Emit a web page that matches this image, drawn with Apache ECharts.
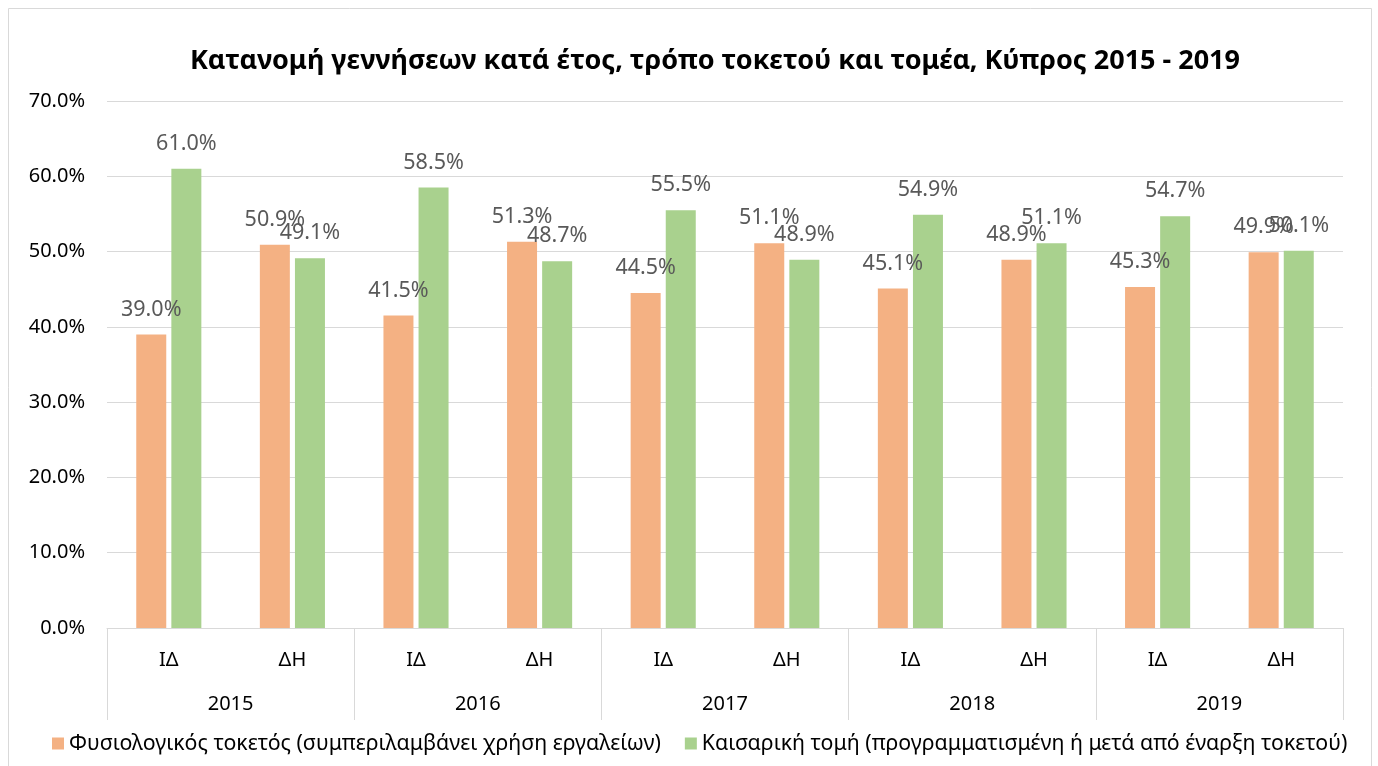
<!DOCTYPE html>
<html>
<head>
<meta charset="utf-8">
<script src="https://cdn.jsdelivr.net/npm/echarts@6/dist/echarts.min.js"></script>
<style>
  html, body { margin: 0; padding: 0; background: #fff; }
  #main { width: 1378px; height: 766px; }
</style>
</head>
<body>
<div id="main"></div>
<script>
// κατηγορίες και τιμές (%)
var years = ['2015', '2016', '2017', '2018', '2019'];
var sectors = ['ΙΔ', 'ΔΗ', 'ΙΔ', 'ΔΗ', 'ΙΔ', 'ΔΗ', 'ΙΔ', 'ΔΗ', 'ΙΔ', 'ΔΗ'];
var natural = [39.0, 50.9, 41.5, 51.3, 44.5, 51.1, 45.1, 48.9, 45.3, 49.9];
var caesarean = [61.0, 49.1, 58.5, 48.7, 55.5, 48.9, 54.9, 51.1, 54.7, 50.1];
var seriesNames = [
  'Φυσιολογικός τοκετός (συμπεριλαμβάνει χρήση εργαλείων)',
  'Καισαρική τομή (προγραμματισμένη ή μετά από έναρξη τοκετού)'
];

var font = '"Noto Sans", "Open Sans", sans-serif';
var chartDom = document.getElementById('main');
var myChart = echarts.init(chartDom);

var labelStyle = {
  show: true,
  position: 'top',
  distance: 14,
  color: '#595959',
  fontSize: 21.5,
  fontFamily: font,
  formatter: function (p) { return p.value.toFixed(1) + '%'; }
};

var option = {
  animation: false,
  textStyle: { fontFamily: font },
  title: {
    text: 'Κατανομή γεννήσεων κατά έτος, τρόπο τοκετού και τομέα, Κύπρος 2015 - 2019',
    left: 185,
    top: 43,
    textStyle: { fontSize: 27, fontWeight: 'bold', color: '#000', fontFamily: font }
  },
  graphic: [{
    type: 'rect',
    shape: { x: 8.5, y: 8.5, width: 1363, height: 780 },
    style: { fill: 'none', stroke: '#d9d9d9', lineWidth: 1 },
    silent: true
  }],
  legend: {
    bottom: 7,
    left: 47,
    icon: 'rect',
    itemWidth: 12,
    itemHeight: 12,
    itemGap: 24,
    textStyle: { fontSize: 21.3, color: '#000', fontFamily: font }
  },
  grid: { left: 107, right: 35, top: 101, bottom: 138 },
  xAxis: [
    {
      type: 'category',
      data: sectors,
      axisTick: { show: false },
      axisLine: { lineStyle: { color: '#d9d9d9', width: 1 } },
      axisLabel: { color: '#000', fontSize: 20, margin: 22, fontFamily: font }
    },
    {
      type: 'category',
      data: years,
      position: 'bottom',
      axisLine: { show: false },
      axisTick: { show: true, length: 92, lineStyle: { color: '#d9d9d9', width: 1 } },
      axisLabel: { color: '#000', fontSize: 20, margin: 66, fontFamily: font }
    }
  ],
  yAxis: {
    type: 'value',
    min: 0,
    max: 70,
    interval: 10,
    axisLine: { show: false },
    axisTick: { show: false },
    splitLine: { lineStyle: { color: '#d9d9d9', width: 1 } },
    axisLabel: {
      color: '#000',
      fontSize: 20,
      margin: 22,
      fontFamily: font,
      formatter: function (v) { return v.toFixed(1) + '%'; }
    }
  },
  series: [
    {
      name: seriesNames[0],
      type: 'bar',
      xAxisIndex: 0,
      data: natural,
      barWidth: 30,
      barGap: '17%',
      itemStyle: { color: '#F4B183' },
      label: labelStyle
    },
    {
      name: seriesNames[1],
      type: 'bar',
      xAxisIndex: 0,
      data: caesarean,
      barWidth: 30,
      barGap: '17%',
      itemStyle: { color: '#A9D18E' },
      label: labelStyle
    }
  ]
};
option && myChart.setOption(option);
</script>
</body>
</html>
